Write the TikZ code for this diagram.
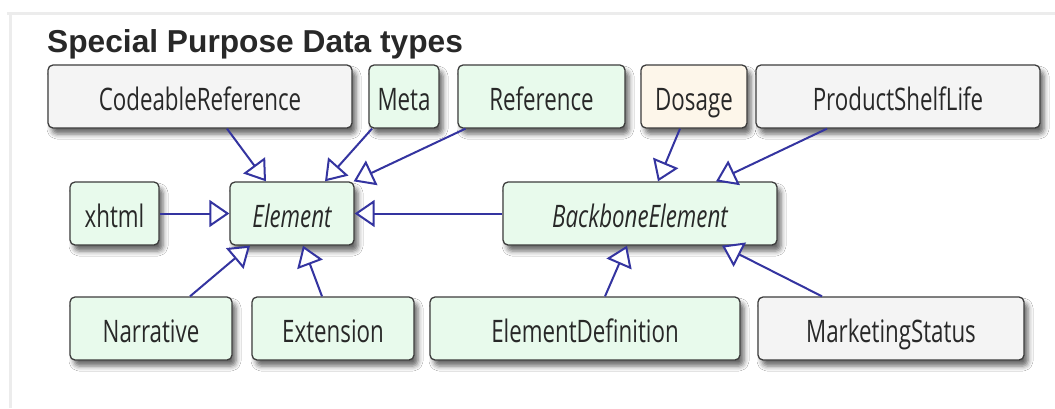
\documentclass[tikz,border=0pt]{standalone}
\usepackage{fontspec}
\setmainfont{Open Sans}
\newfontfamily\boxfont[FakeStretch=0.72]{Open Sans}
\newfontfamily\titlefont{Liberation Sans}
\usetikzlibrary{arrows.meta,shadows.blur}

\definecolor{framegray}{RGB}{236,236,236}
\definecolor{boxline}{RGB}{60,60,60}
\definecolor{labelgray}{RGB}{40,40,40}
\definecolor{greenfill}{RGB}{232,250,236}
\definecolor{grayfill}{RGB}{244,244,244}
\definecolor{beigefill}{RGB}{253,246,234}
\definecolor{linkblue}{RGB}{52,52,160}

\begin{document}
\begin{tikzpicture}[x=1pt,y=-1pt,
  cls/.style={draw=boxline, line width=1.3pt, rounded corners=5pt,
    inner sep=0pt, minimum height=63pt,
    font=\boxfont\fontsize{31}{32}\selectfont, text=labelgray,
    text height=27pt, text depth=0pt,
    blur shadow={shadow xshift=4pt, shadow yshift=-6pt,
      shadow blur radius=5pt, shadow opacity=60}},
  green/.style={cls, fill=greenfill},
  grey/.style={cls, fill=grayfill},
  beige/.style={cls, fill=beigefill},
  abstract/.style={font=\boxfont\itshape\fontsize{31}{32}\selectfont},
  isa/.style={draw=linkblue, line width=2pt,
    -{Triangle[fill=white, length=20pt, width=27pt]}}]

\useasboundingbox (0,0) rectangle (1055,408);
\fill[white] (0,0) rectangle (1055,408);

% panel frame
\draw[framegray, line width=3pt] (7,13.5) -- (1055,13.5);
\draw[framegray, line width=3pt] (10,13.5) -- (10,408);

% heading
\node[anchor=base west, inner sep=0pt, text=labelgray,
  font=\titlefont\bfseries\fontsize{31.7}{33}\selectfont] (title) at (47,52)
  {Special Purpose Data types};

% top row
\node[grey,  minimum width=304pt] (cref)   at (200,96.5)   {CodeableReference};
\node[green, minimum width=70pt]  (meta)   at (404,96.5)   {Meta};
\node[green, minimum width=167pt] (ref)    at (541.5,96.5) {Reference};
\node[beige, minimum width=106pt] (dosage) at (694,96.5)   {Dosage};
\node[grey,  minimum width=284pt] (psl)    at (898,96.5)   {ProductShelfLife};

% middle row
\node[green, minimum width=89pt]  (xhtml) at (114.5,213.5) {xhtml};
\node[green, abstract, minimum width=124pt] (elem) at (292,213.5) {Element};
\node[green, abstract, minimum width=274pt] (bbe)  at (640,213.5) {BackboneElement};

% bottom row
\node[green, minimum width=162pt] (narr)  at (151,328.5) {Narrative};
\node[green, minimum width=162pt] (ext)   at (333,328.5) {Extension};
\node[green, minimum width=310pt] (eldef) at (585,328.5) {ElementDefinition};
\node[grey,  minimum width=266pt] (mkt)   at (891,328.5) {MarketingStatus};

% specialisations of Element
\draw[isa] ([xshift=27pt]cref.south)   -- ([xshift=-26pt]elem.north);
\draw[isa] ([xshift=-32pt]meta.south)  -- ([xshift=33pt]elem.north);
\draw[isa] ([xshift=-76pt]ref.south)   -- ([xshift=-1pt]elem.north east);
\draw[isa] (xhtml.east) -- (elem.west);
\draw[isa] (bbe.west) -- (elem.east);
\draw[isa] ([xshift=39pt]narr.north)   -- ([xshift=-42pt]elem.south);
\draw[isa] ([xshift=-11pt]ext.north)   -- ([xshift=11pt]elem.south);

% specialisations of BackboneElement
\draw[isa] ([xshift=-14pt]dosage.south) -- ([xshift=18pt]bbe.north);
\draw[isa] ([xshift=-71pt]psl.south)    -- ([xshift=76pt]bbe.north);
\draw[isa] ([xshift=20pt]eldef.north)   -- ([xshift=-13pt]bbe.south);
\draw[isa] ([xshift=-69pt]mkt.north)    -- ([xshift=82pt]bbe.south);
\end{tikzpicture}
\end{document}
